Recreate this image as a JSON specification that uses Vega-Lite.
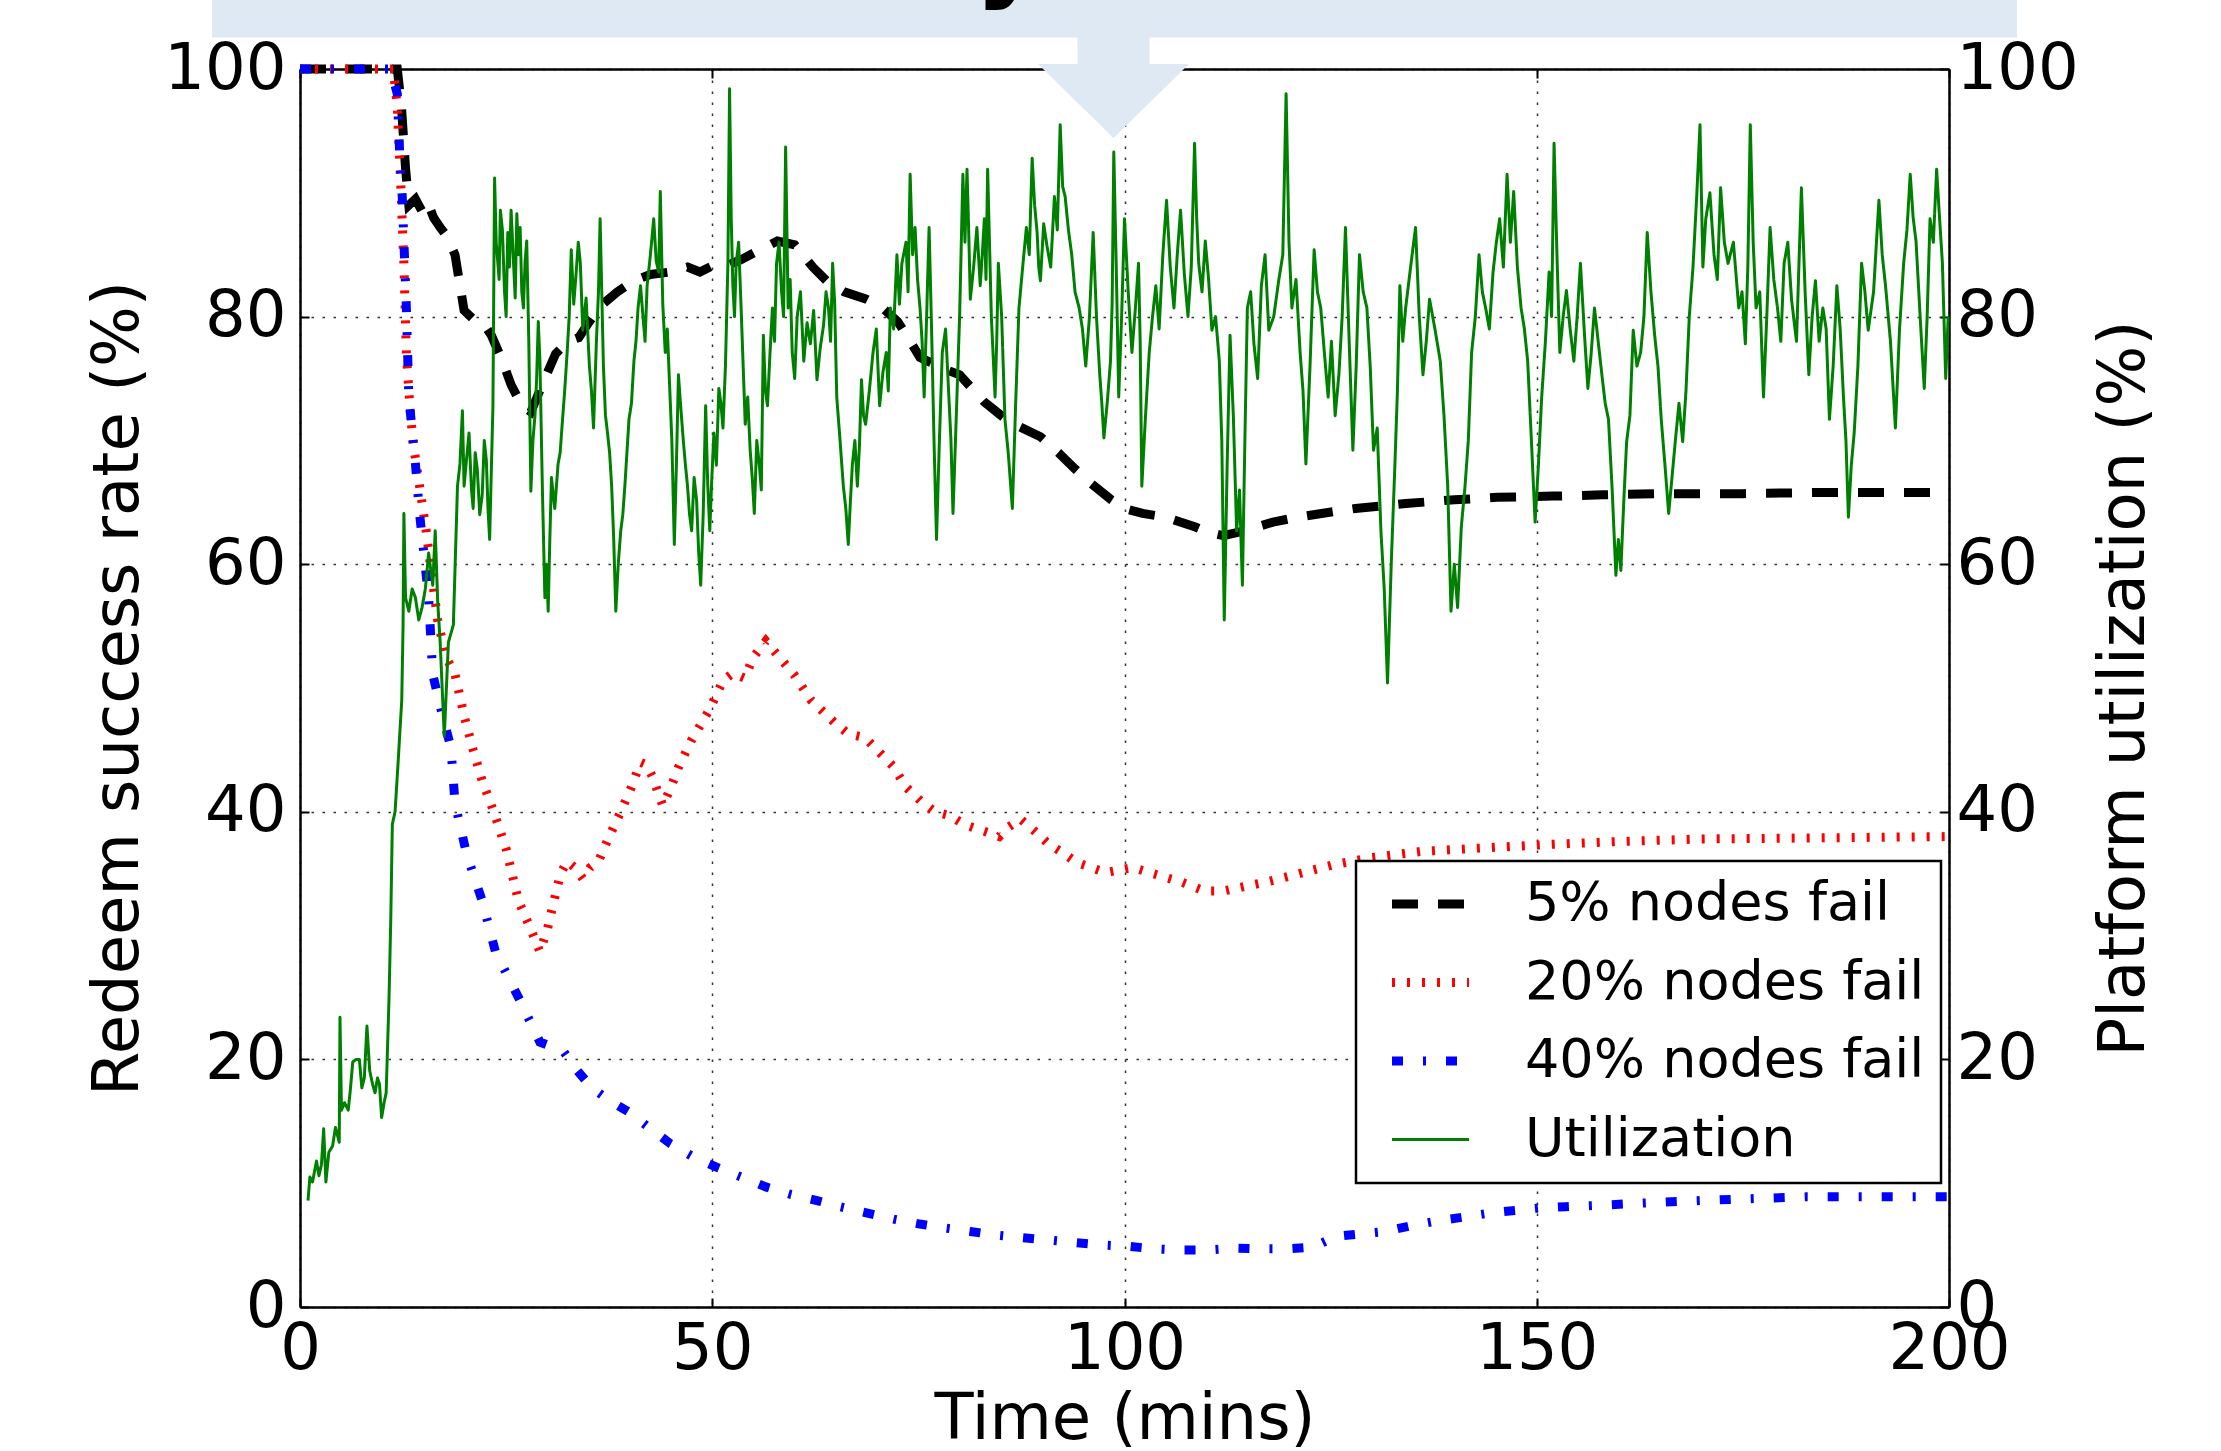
{
  "$schema": "https://vega.github.io/schema/vega-lite/v6.json",
  "width": 1649,
  "height": 1238,
  "autosize": {"type": "none"},
  "padding": {"left": 300, "top": 69, "right": 272, "bottom": 144},
  "background": "white",
  "config": {
    "font": "DejaVu Sans",
    "view": {"stroke": null},
    "axis": {
      "labelFont": "DejaVu Sans", "titleFont": "DejaVu Sans",
      "labelFontSize": 64, "titleFontSize": 64,
      "labelColor": "black", "titleColor": "black", "titleFontWeight": "normal",
      "domainColor": "black", "domainWidth": 2.5,
      "tickColor": "black", "tickWidth": 2, "tickSize": -9,
      "gridColor": "black", "gridDash": [2.5, 8.5], "gridWidth": 1.5, "gridOpacity": 0.8,
      "labelFlush": false, "labelOverlap": false, "labelBound": false
    },
    "legend": {"strokeWidth": 2.5}
  },
  "datasets": {
    "redeem": [
      {"t":0,"v":100,"s":"5% nodes fail"},{"t":5,"v":100,"s":"5% nodes fail"},{"t":11.8,"v":100,"s":"5% nodes fail"},{"t":12.3,"v":97,"s":"5% nodes fail"},{"t":12.8,"v":92,"s":"5% nodes fail"},{"t":13.2,"v":89,"s":"5% nodes fail"},{"t":14,"v":89.5,"s":"5% nodes fail"},{"t":14.8,"v":88.5,"s":"5% nodes fail"},{"t":15.5,"v":89.2,"s":"5% nodes fail"},{"t":16.2,"v":88,"s":"5% nodes fail"},{"t":17,"v":87.2,"s":"5% nodes fail"},{"t":17.8,"v":86.5,"s":"5% nodes fail"},{"t":18.8,"v":85,"s":"5% nodes fail"},{"t":19.9,"v":80.5,"s":"5% nodes fail"},{"t":21,"v":79.8,"s":"5% nodes fail"},{"t":22.2,"v":79.5,"s":"5% nodes fail"},{"t":23.2,"v":78.5,"s":"5% nodes fail"},{"t":24.5,"v":76.5,"s":"5% nodes fail"},{"t":25.6,"v":74.5,"s":"5% nodes fail"},{"t":26.9,"v":72.8,"s":"5% nodes fail"},{"t":28,"v":72.3,"s":"5% nodes fail"},{"t":29.7,"v":75,"s":"5% nodes fail"},{"t":31,"v":77,"s":"5% nodes fail"},{"t":32.5,"v":78,"s":"5% nodes fail"},{"t":33.8,"v":78.3,"s":"5% nodes fail"},{"t":35,"v":79.5,"s":"5% nodes fail"},{"t":36.7,"v":81,"s":"5% nodes fail"},{"t":38.5,"v":82,"s":"5% nodes fail"},{"t":40.5,"v":82.9,"s":"5% nodes fail"},{"t":42.5,"v":83.4,"s":"5% nodes fail"},{"t":44.9,"v":83.6,"s":"5% nodes fail"},{"t":47,"v":84,"s":"5% nodes fail"},{"t":48.5,"v":83.6,"s":"5% nodes fail"},{"t":50,"v":84.1,"s":"5% nodes fail"},{"t":52,"v":84.2,"s":"5% nodes fail"},{"t":53.5,"v":84.6,"s":"5% nodes fail"},{"t":55.5,"v":85.3,"s":"5% nodes fail"},{"t":57.9,"v":86.1,"s":"5% nodes fail"},{"t":60,"v":85.8,"s":"5% nodes fail"},{"t":62.2,"v":84,"s":"5% nodes fail"},{"t":64,"v":82.8,"s":"5% nodes fail"},{"t":66,"v":82,"s":"5% nodes fail"},{"t":68.7,"v":81.4,"s":"5% nodes fail"},{"t":70.5,"v":80.8,"s":"5% nodes fail"},{"t":72.5,"v":79.6,"s":"5% nodes fail"},{"t":74,"v":78,"s":"5% nodes fail"},{"t":75.2,"v":76.7,"s":"5% nodes fail"},{"t":78.4,"v":75.7,"s":"5% nodes fail"},{"t":80,"v":75.3,"s":"5% nodes fail"},{"t":83,"v":73.1,"s":"5% nodes fail"},{"t":86,"v":71.5,"s":"5% nodes fail"},{"t":89.8,"v":70.3,"s":"5% nodes fail"},{"t":92,"v":69,"s":"5% nodes fail"},{"t":94,"v":67.7,"s":"5% nodes fail"},{"t":96,"v":66.5,"s":"5% nodes fail"},{"t":98.4,"v":65.2,"s":"5% nodes fail"},{"t":100,"v":64.5,"s":"5% nodes fail"},{"t":102.2,"v":64.1,"s":"5% nodes fail"},{"t":105,"v":63.8,"s":"5% nodes fail"},{"t":108.6,"v":63,"s":"5% nodes fail"},{"t":110,"v":62.6,"s":"5% nodes fail"},{"t":112,"v":62.3,"s":"5% nodes fail"},{"t":114,"v":62.6,"s":"5% nodes fail"},{"t":116,"v":63,"s":"5% nodes fail"},{"t":118,"v":63.4,"s":"5% nodes fail"},{"t":121,"v":63.8,"s":"5% nodes fail"},{"t":123.9,"v":64.1,"s":"5% nodes fail"},{"t":128,"v":64.5,"s":"5% nodes fail"},{"t":134.1,"v":64.9,"s":"5% nodes fail"},{"t":140,"v":65.2,"s":"5% nodes fail"},{"t":145.2,"v":65.4,"s":"5% nodes fail"},{"t":152,"v":65.5,"s":"5% nodes fail"},{"t":158,"v":65.6,"s":"5% nodes fail"},{"t":165,"v":65.7,"s":"5% nodes fail"},{"t":175,"v":65.7,"s":"5% nodes fail"},{"t":185,"v":65.8,"s":"5% nodes fail"},{"t":200,"v":65.8,"s":"5% nodes fail"},
      {"t":0,"v":100,"s":"20% nodes fail"},{"t":11.3,"v":100,"s":"20% nodes fail"},{"t":11.8,"v":97,"s":"20% nodes fail"},{"t":12.2,"v":91,"s":"20% nodes fail"},{"t":12.6,"v":84.3,"s":"20% nodes fail"},{"t":12.9,"v":77,"s":"20% nodes fail"},{"t":13.3,"v":73,"s":"20% nodes fail"},{"t":13.7,"v":69.9,"s":"20% nodes fail"},{"t":14.5,"v":66.3,"s":"20% nodes fail"},{"t":15.3,"v":62.7,"s":"20% nodes fail"},{"t":16,"v":59,"s":"20% nodes fail"},{"t":16.7,"v":55.5,"s":"20% nodes fail"},{"t":17.7,"v":52.5,"s":"20% nodes fail"},{"t":18.8,"v":51.1,"s":"20% nodes fail"},{"t":20,"v":47.5,"s":"20% nodes fail"},{"t":21,"v":45,"s":"20% nodes fail"},{"t":22.1,"v":42.5,"s":"20% nodes fail"},{"t":23.5,"v":40,"s":"20% nodes fail"},{"t":25,"v":37,"s":"20% nodes fail"},{"t":26.5,"v":32.8,"s":"20% nodes fail"},{"t":28,"v":30.5,"s":"20% nodes fail"},{"t":29.1,"v":28.7,"s":"20% nodes fail"},{"t":30,"v":30.5,"s":"20% nodes fail"},{"t":30.8,"v":32.8,"s":"20% nodes fail"},{"t":31.6,"v":35,"s":"20% nodes fail"},{"t":32.4,"v":36,"s":"20% nodes fail"},{"t":33.3,"v":35.5,"s":"20% nodes fail"},{"t":34.3,"v":34.6,"s":"20% nodes fail"},{"t":35.2,"v":35.5,"s":"20% nodes fail"},{"t":36.2,"v":36,"s":"20% nodes fail"},{"t":37.5,"v":38,"s":"20% nodes fail"},{"t":38.9,"v":40,"s":"20% nodes fail"},{"t":40.2,"v":42,"s":"20% nodes fail"},{"t":41.3,"v":44,"s":"20% nodes fail"},{"t":42,"v":43.8,"s":"20% nodes fail"},{"t":42.7,"v":42.9,"s":"20% nodes fail"},{"t":44,"v":40.5,"s":"20% nodes fail"},{"t":45,"v":42,"s":"20% nodes fail"},{"t":45.9,"v":43.6,"s":"20% nodes fail"},{"t":47.5,"v":45.8,"s":"20% nodes fail"},{"t":49.7,"v":48.3,"s":"20% nodes fail"},{"t":51.3,"v":50.6,"s":"20% nodes fail"},{"t":52.5,"v":51.2,"s":"20% nodes fail"},{"t":53.9,"v":50.8,"s":"20% nodes fail"},{"t":55,"v":52.5,"s":"20% nodes fail"},{"t":56.5,"v":53.8,"s":"20% nodes fail"},{"t":57.5,"v":53,"s":"20% nodes fail"},{"t":59.9,"v":51.1,"s":"20% nodes fail"},{"t":62,"v":49,"s":"20% nodes fail"},{"t":65,"v":47.1,"s":"20% nodes fail"},{"t":66.5,"v":46.3,"s":"20% nodes fail"},{"t":68.5,"v":46,"s":"20% nodes fail"},{"t":70,"v":45,"s":"20% nodes fail"},{"t":71.9,"v":43.7,"s":"20% nodes fail"},{"t":73.5,"v":42,"s":"20% nodes fail"},{"t":75.4,"v":40.8,"s":"20% nodes fail"},{"t":77,"v":40,"s":"20% nodes fail"},{"t":78.8,"v":39.7,"s":"20% nodes fail"},{"t":80.5,"v":39,"s":"20% nodes fail"},{"t":82.2,"v":38.6,"s":"20% nodes fail"},{"t":84.8,"v":38,"s":"20% nodes fail"},{"t":86,"v":38.8,"s":"20% nodes fail"},{"t":87.4,"v":39.4,"s":"20% nodes fail"},{"t":89,"v":38.5,"s":"20% nodes fail"},{"t":90.8,"v":37.4,"s":"20% nodes fail"},{"t":92.5,"v":36.7,"s":"20% nodes fail"},{"t":94.2,"v":35.9,"s":"20% nodes fail"},{"t":97.7,"v":35.1,"s":"20% nodes fail"},{"t":101,"v":35.5,"s":"20% nodes fail"},{"t":104.5,"v":34.8,"s":"20% nodes fail"},{"t":107,"v":34.3,"s":"20% nodes fail"},{"t":109.7,"v":33.6,"s":"20% nodes fail"},{"t":112,"v":33.6,"s":"20% nodes fail"},{"t":114.8,"v":34,"s":"20% nodes fail"},{"t":117,"v":34.3,"s":"20% nodes fail"},{"t":120,"v":34.8,"s":"20% nodes fail"},{"t":125.2,"v":35.7,"s":"20% nodes fail"},{"t":130,"v":36.3,"s":"20% nodes fail"},{"t":136,"v":36.8,"s":"20% nodes fail"},{"t":144,"v":37.1,"s":"20% nodes fail"},{"t":152.6,"v":37.4,"s":"20% nodes fail"},{"t":160,"v":37.6,"s":"20% nodes fail"},{"t":169.8,"v":37.8,"s":"20% nodes fail"},{"t":185,"v":37.9,"s":"20% nodes fail"},{"t":200,"v":38,"s":"20% nodes fail"},
      {"t":0,"v":100,"s":"40% nodes fail"},{"t":11,"v":100,"s":"40% nodes fail"},{"t":11.8,"v":98,"s":"40% nodes fail"},{"t":12.1,"v":93,"s":"40% nodes fail"},{"t":12.4,"v":89.7,"s":"40% nodes fail"},{"t":12.9,"v":80.7,"s":"40% nodes fail"},{"t":13.2,"v":73.5,"s":"40% nodes fail"},{"t":14,"v":68.1,"s":"40% nodes fail"},{"t":14.5,"v":64.1,"s":"40% nodes fail"},{"t":15.6,"v":57.3,"s":"40% nodes fail"},{"t":16.1,"v":51.1,"s":"40% nodes fail"},{"t":17.2,"v":48,"s":"40% nodes fail"},{"t":18.3,"v":45.2,"s":"40% nodes fail"},{"t":18.8,"v":40.7,"s":"40% nodes fail"},{"t":20.2,"v":36.6,"s":"40% nodes fail"},{"t":22.1,"v":32.8,"s":"40% nodes fail"},{"t":23.7,"v":28.7,"s":"40% nodes fail"},{"t":26.5,"v":25,"s":"40% nodes fail"},{"t":29.1,"v":21.4,"s":"40% nodes fail"},{"t":31.9,"v":20.7,"s":"40% nodes fail"},{"t":33.5,"v":19.2,"s":"40% nodes fail"},{"t":35.4,"v":17.7,"s":"40% nodes fail"},{"t":37.5,"v":16.7,"s":"40% nodes fail"},{"t":40,"v":15.7,"s":"40% nodes fail"},{"t":42.5,"v":14.4,"s":"40% nodes fail"},{"t":44.9,"v":13.2,"s":"40% nodes fail"},{"t":47.5,"v":12.2,"s":"40% nodes fail"},{"t":50.5,"v":11.3,"s":"40% nodes fail"},{"t":53.5,"v":10.5,"s":"40% nodes fail"},{"t":56.5,"v":9.7,"s":"40% nodes fail"},{"t":59.5,"v":9.1,"s":"40% nodes fail"},{"t":62.7,"v":8.6,"s":"40% nodes fail"},{"t":65.5,"v":8.1,"s":"40% nodes fail"},{"t":68.7,"v":7.6,"s":"40% nodes fail"},{"t":72,"v":7.1,"s":"40% nodes fail"},{"t":75.2,"v":6.7,"s":"40% nodes fail"},{"t":78,"v":6.4,"s":"40% nodes fail"},{"t":81.3,"v":6.1,"s":"40% nodes fail"},{"t":84.5,"v":5.8,"s":"40% nodes fail"},{"t":87.7,"v":5.6,"s":"40% nodes fail"},{"t":91,"v":5.4,"s":"40% nodes fail"},{"t":94.1,"v":5.2,"s":"40% nodes fail"},{"t":97.5,"v":5,"s":"40% nodes fail"},{"t":100.5,"v":4.9,"s":"40% nodes fail"},{"t":103.5,"v":4.7,"s":"40% nodes fail"},{"t":106.9,"v":4.6,"s":"40% nodes fail"},{"t":110,"v":4.6,"s":"40% nodes fail"},{"t":113.3,"v":4.75,"s":"40% nodes fail"},{"t":116.5,"v":4.7,"s":"40% nodes fail"},{"t":119.7,"v":4.7,"s":"40% nodes fail"},{"t":122,"v":4.8,"s":"40% nodes fail"},{"t":123.1,"v":4.9,"s":"40% nodes fail"},{"t":125.6,"v":5.7,"s":"40% nodes fail"},{"t":128.5,"v":5.9,"s":"40% nodes fail"},{"t":131.6,"v":6.1,"s":"40% nodes fail"},{"t":135,"v":6.6,"s":"40% nodes fail"},{"t":138.4,"v":7,"s":"40% nodes fail"},{"t":141.5,"v":7.3,"s":"40% nodes fail"},{"t":144.4,"v":7.6,"s":"40% nodes fail"},{"t":147.5,"v":7.8,"s":"40% nodes fail"},{"t":150.3,"v":8,"s":"40% nodes fail"},{"t":153.5,"v":8.1,"s":"40% nodes fail"},{"t":157.1,"v":8.2,"s":"40% nodes fail"},{"t":163,"v":8.4,"s":"40% nodes fail"},{"t":170,"v":8.6,"s":"40% nodes fail"},{"t":176,"v":8.75,"s":"40% nodes fail"},{"t":182.7,"v":8.9,"s":"40% nodes fail"},{"t":189,"v":8.9,"s":"40% nodes fail"},{"t":195.5,"v":8.9,"s":"40% nodes fail"},{"t":200,"v":8.9,"s":"40% nodes fail"}
    ],
    "util": [
      {"t":0.97,"u":8.6},{"t":1.2,"u":10.5},{"t":1.52,"u":10.1},{"t":2.0,"u":11.8},{"t":2.3,"u":10.6},{"t":2.6,"u":11.5},{"t":2.87,"u":14.4},{"t":3.14,"u":10.1},{"t":3.5,"u":12.5},{"t":3.95,"u":13.0},{"t":4.3,"u":14.5},{"t":4.76,"u":13.3},{"t":4.85,"u":23.4},{"t":5.03,"u":15.9},{"t":5.4,"u":16.5},{"t":5.85,"u":15.9},{"t":6.1,"u":17.5},{"t":6.4,"u":19.8},{"t":6.8,"u":20.0},{"t":7.2,"u":20.0},{"t":7.5,"u":17.7},{"t":7.8,"u":18.5},{"t":8.12,"u":22.7},{"t":8.45,"u":19.1},{"t":8.8,"u":18.0},{"t":9.1,"u":17.3},{"t":9.4,"u":18.5},{"t":9.64,"u":18.0},{"t":9.9,"u":15.3},{"t":10.2,"u":16.5},{"t":10.45,"u":17.3},{"t":10.8,"u":25},{"t":11.0,"u":31},{"t":11.2,"u":39},{"t":11.53,"u":40},{"t":11.9,"u":44},{"t":12.34,"u":49},{"t":12.5,"u":55},{"t":12.6,"u":64.1},{"t":12.8,"u":57.3},{"t":13.2,"u":56.2},{"t":13.6,"u":58},{"t":14.0,"u":57.3},{"t":14.4,"u":55.5},{"t":14.8,"u":56.5},{"t":15.2,"u":58},{"t":15.6,"u":60.9},{"t":16.1,"u":58.3},{"t":16.4,"u":62.7},{"t":16.7,"u":57},{"t":17.0,"u":53.7},{"t":17.5,"u":46.1},{"t":18.0,"u":53.7},{"t":18.6,"u":55.1},
      {"t":19.1,"u":66.3},{"t":19.4,"u":68.1},{"t":19.7,"u":72.4},{"t":19.9,"u":66.3},{"t":20.2,"u":68.5},{"t":20.5,"u":70.6},{"t":20.8,"u":66},{"t":21.0,"u":64.5},{"t":21.25,"u":69},{"t":21.5,"u":67.7},{"t":21.8,"u":64},{"t":22.1,"u":65.6},{"t":22.35,"u":70},{"t":22.6,"u":68.4},{"t":22.8,"u":64.5},{"t":23.0,"u":62.0},{"t":23.4,"u":72.8},
      {"t":23.6,"u":91.2},{"t":23.8,"u":86},{"t":24.0,"u":84.3},{"t":24.15,"u":83},{"t":24.3,"u":88.6},{"t":24.55,"u":87},{"t":24.8,"u":82.1},{"t":25.0,"u":80},{"t":25.2,"u":86.8},{"t":25.4,"u":84},{"t":25.6,"u":88.6},{"t":25.75,"u":86.5},{"t":25.9,"u":84.3},{"t":26.1,"u":81.5},{"t":26.3,"u":88.3},{"t":26.5,"u":85},{"t":26.7,"u":87.2},{"t":26.9,"u":82},{"t":27.1,"u":80.7},{"t":27.3,"u":84.5},{"t":27.5,"u":86.1},{"t":27.75,"u":78},{"t":28.0,"u":65.9},
      {"t":28.25,"u":70},{"t":28.5,"u":72},{"t":28.7,"u":75},{"t":28.9,"u":79.6},{"t":29.1,"u":76.4},{"t":29.4,"u":66},{"t":29.7,"u":57.3},{"t":29.9,"u":60},{"t":30.1,"u":56.2},{"t":30.3,"u":62},{"t":30.5,"u":67.0},{"t":30.9,"u":64.5},{"t":31.3,"u":68.1},
      {"t":31.55,"u":69},{"t":31.8,"u":71.3},{"t":32.1,"u":74},{"t":32.4,"u":77.1},{"t":32.65,"u":80},{"t":32.9,"u":85.4},{"t":33.2,"u":81},{"t":33.5,"u":83.6},{"t":33.75,"u":86},{"t":34.0,"u":84.3},{"t":34.3,"u":78.9},{"t":34.7,"u":81.5},{"t":35.1,"u":76.0},{"t":35.35,"u":74},{"t":35.6,"u":71.0},{"t":35.95,"u":78},{"t":36.2,"u":82},{"t":36.4,"u":87.9},
      {"t":36.8,"u":76},{"t":37.05,"u":72},{"t":37.3,"u":70.6},{"t":37.55,"u":69},{"t":37.8,"u":66.3},{"t":38.05,"u":62},{"t":38.3,"u":56.2},{"t":38.6,"u":60},{"t":38.9,"u":62.7},{"t":39.15,"u":64},{"t":39.4,"u":66.3},{"t":39.65,"u":69},{"t":39.9,"u":71.7},{"t":40.2,"u":73},{"t":40.5,"u":76.4},{"t":40.75,"u":78},{"t":41.0,"u":80.7},
      {"t":41.3,"u":82.5},{"t":41.6,"u":80.0},{"t":41.85,"u":78},{"t":42.1,"u":82.5},{"t":42.5,"u":85},{"t":42.9,"u":87.9},{"t":43.2,"u":84.5},{"t":43.5,"u":83.6},{"t":43.7,"u":90.1},{"t":44.0,"u":81},{"t":44.3,"u":77.1},{"t":44.55,"u":79},{"t":44.8,"u":74.9},{"t":45.1,"u":70},{"t":45.4,"u":61.6},
      {"t":45.65,"u":68},{"t":45.9,"u":75.3},{"t":46.2,"u":72.5},{"t":46.5,"u":69.9},{"t":46.75,"u":68},{"t":47.0,"u":66.3},{"t":47.25,"u":64},{"t":47.5,"u":62.7},{"t":47.8,"u":67},{"t":48.1,"u":65.2},{"t":48.35,"u":61},{"t":48.6,"u":58.3},{"t":48.9,"u":64},{"t":49.2,"u":72.8},{"t":49.45,"u":66.5},{"t":49.7,"u":62.7},{"t":49.95,"u":67},
      {"t":50.2,"u":70.6},{"t":50.5,"u":68},{"t":50.8,"u":74.2},{"t":51.05,"u":73},{"t":51.3,"u":71.0},{"t":51.6,"u":76},{"t":51.9,"u":84.3},{"t":52.1,"u":98.4},{"t":52.3,"u":88},{"t":52.5,"u":82.5},{"t":52.7,"u":80},{"t":52.9,"u":84.3},{"t":53.2,"u":86},{"t":53.5,"u":80.7},{"t":53.75,"u":76},{"t":54.0,"u":71.3},{"t":54.3,"u":73.5},{"t":54.6,"u":69.2},{"t":54.85,"u":67},{"t":55.1,"u":64.1},{"t":55.4,"u":70},{"t":55.7,"u":68.1},{"t":55.95,"u":66},
      {"t":56.2,"u":78.5},{"t":56.45,"u":74},{"t":56.7,"u":72.8},{"t":57.0,"u":77},{"t":57.3,"u":80.7},{"t":57.55,"u":78},{"t":57.8,"u":84.3},{"t":58.1,"u":86},{"t":58.4,"u":82.1},{"t":58.65,"u":80},{"t":58.9,"u":93.7},{"t":59.2,"u":80.7},{"t":59.45,"u":83},{"t":59.7,"u":77.1},{"t":60.0,"u":75},{"t":60.3,"u":80.0},{"t":60.7,"u":82},{"t":61.1,"u":76.4},
      {"t":61.5,"u":79.5},{"t":61.9,"u":77.8},{"t":62.3,"u":80.5},{"t":62.7,"u":74.9},{"t":63.1,"u":77.5},{"t":63.5,"u":79.3},{"t":63.8,"u":82},{"t":64.1,"u":80.7},{"t":64.35,"u":78},{"t":64.6,"u":84.3},{"t":64.85,"u":81},{"t":65.1,"u":73.5},{"t":65.5,"u":70},{"t":65.9,"u":66.3},
      {"t":66.2,"u":64.5},{"t":66.5,"u":61.6},{"t":66.75,"u":65},{"t":67.0,"u":68.1},{"t":67.3,"u":70},{"t":67.6,"u":66.3},{"t":67.85,"u":69.5},{"t":68.1,"u":74.9},{"t":68.35,"u":72},{"t":68.6,"u":71.3},{"t":69.05,"u":74},{"t":69.5,"u":77.1},{"t":69.9,"u":79},{"t":70.3,"u":72.8},{"t":70.7,"u":75.5},{"t":71.1,"u":77.1},{"t":71.35,"u":74},{"t":71.6,"u":80.7},{"t":72.0,"u":79},{"t":72.4,"u":85.0},
      {"t":72.7,"u":81},{"t":73.0,"u":84.3},{"t":73.5,"u":86},{"t":73.75,"u":82},{"t":74.0,"u":91.5},{"t":74.3,"u":85},{"t":74.6,"u":87.2},{"t":74.9,"u":83},{"t":75.2,"u":80.7},{"t":75.45,"u":78},{"t":75.7,"u":73.5},{"t":76.0,"u":80},{"t":76.3,"u":87.2},{"t":76.6,"u":79},{"t":76.9,"u":69.9},{"t":77.2,"u":62.0},{"t":77.55,"u":70},{"t":77.9,"u":77.1},{"t":78.3,"u":79},{"t":78.7,"u":73.5},{"t":78.95,"u":70},{"t":79.2,"u":64.1},{"t":79.6,"u":72},{"t":80.0,"u":80},{"t":80.4,"u":91.5},
      {"t":80.65,"u":86},{"t":80.9,"u":91.9},{"t":81.1,"u":87},{"t":81.3,"u":81.4},{"t":81.7,"u":84},{"t":82.1,"u":87.2},{"t":82.5,"u":82.5},{"t":82.75,"u":85},{"t":83.0,"u":87.9},{"t":83.2,"u":83},{"t":83.4,"u":91.9},{"t":83.85,"u":80},{"t":84.3,"u":73.5},{"t":84.5,"u":78},{"t":84.7,"u":84.3},{"t":85.1,"u":80},{"t":85.5,"u":71.7},{"t":85.9,"u":69},{"t":86.4,"u":64.5},
      {"t":86.8,"u":73},{"t":87.2,"u":80.7},{"t":87.65,"u":84},{"t":88.1,"u":87.2},{"t":88.45,"u":85},{"t":88.8,"u":92.8},{"t":89.1,"u":89},{"t":89.4,"u":86.8},{"t":89.6,"u":84},{"t":89.8,"u":82.9},{"t":90.2,"u":87.5},{"t":90.6,"u":85.7},{"t":91.05,"u":84},{"t":91.5,"u":89.7},{"t":91.85,"u":87},{"t":92.2,"u":95.5},
      {"t":92.5,"u":90.5},{"t":92.8,"u":89.7},{"t":93.2,"u":87},{"t":93.6,"u":85.0},{"t":94.0,"u":82},{"t":94.5,"u":80.7},{"t":94.9,"u":79},{"t":95.3,"u":76.0},{"t":95.75,"u":80},{"t":96.2,"u":86.8},{"t":96.6,"u":80},{"t":97.0,"u":75.3},{"t":97.25,"u":73},{"t":97.5,"u":70.2},{"t":97.9,"u":73},{"t":98.3,"u":76.4},{"t":98.5,"u":81},{"t":98.7,"u":93.3},{"t":99.0,"u":84},{"t":99.3,"u":73.5},{"t":99.65,"u":80},{"t":100.0,"u":87.9},
      {"t":100.45,"u":82},{"t":100.9,"u":77.1},{"t":101.3,"u":80.5},{"t":101.7,"u":84.3},{"t":101.9,"u":78},{"t":102.1,"u":66.3},{"t":102.55,"u":72},{"t":103.0,"u":77.1},{"t":103.4,"u":80},{"t":103.8,"u":82.5},{"t":104.2,"u":79},{"t":104.65,"u":85},{"t":105.1,"u":89.4},{"t":105.55,"u":84},{"t":106.0,"u":80.7},{"t":106.4,"u":85},{"t":106.8,"u":88.6},{"t":107.25,"u":83.5},{"t":107.7,"u":80.0},{"t":108.1,"u":84},{"t":108.5,"u":94.0},
      {"t":108.75,"u":88},{"t":109.0,"u":84.3},{"t":109.4,"u":82},{"t":109.8,"u":86.1},{"t":110.2,"u":83},{"t":110.6,"u":78.9},{"t":111.05,"u":80},{"t":111.5,"u":76.4},{"t":111.8,"u":70},{"t":112.1,"u":55.5},{"t":112.45,"u":68},{"t":112.8,"u":78.5},{"t":113.2,"u":72},{"t":113.6,"u":62.7},{"t":113.95,"u":66},{"t":114.3,"u":58.3},{"t":114.6,"u":70},{"t":114.9,"u":80.7},
      {"t":115.3,"u":82},{"t":115.7,"u":77.8},{"t":116.15,"u":75},{"t":116.6,"u":82.5},{"t":117.05,"u":85},{"t":117.5,"u":78.9},{"t":118.1,"u":80},{"t":118.7,"u":82.9},{"t":119.2,"u":85},{"t":119.6,"u":98.0},{"t":119.95,"u":86},{"t":120.3,"u":80.7},{"t":120.8,"u":83},{"t":121.3,"u":77.1},{"t":121.65,"u":74},{"t":122.0,"u":68.1},{"t":122.5,"u":76},{"t":123.0,"u":85.4},
      {"t":123.4,"u":82},{"t":123.8,"u":80.7},{"t":124.25,"u":77},{"t":124.7,"u":73.5},{"t":125.1,"u":78},{"t":125.55,"u":72},{"t":126.0,"u":75.3},{"t":126.4,"u":80},{"t":126.8,"u":87.2},{"t":127.25,"u":78},{"t":127.7,"u":69.2},{"t":128.1,"u":76},{"t":128.5,"u":85.0},{"t":128.95,"u":82},{"t":129.4,"u":80.7},{"t":129.8,"u":76},{"t":130.2,"u":69.2},{"t":130.65,"u":71},{"t":131.1,"u":62.7},
      {"t":131.5,"u":58},{"t":131.9,"u":50.4},{"t":132.35,"u":60},{"t":132.8,"u":68.1},{"t":133.1,"u":74},{"t":133.4,"u":82.5},{"t":133.75,"u":78},{"t":134.1,"u":80.7},{"t":134.7,"u":84},{"t":135.3,"u":87.2},{"t":135.75,"u":80},{"t":136.2,"u":75.3},{"t":136.6,"u":78},{"t":137.0,"u":81.4},{"t":137.65,"u":79},{"t":138.3,"u":76.4},{"t":138.75,"u":72},{"t":139.2,"u":66.3},
      {"t":139.6,"u":56.2},{"t":140.0,"u":60},{"t":140.4,"u":56.5},{"t":140.85,"u":63},{"t":141.3,"u":66.3},{"t":141.7,"u":70},{"t":142.1,"u":77.1},{"t":142.55,"u":80},{"t":143.0,"u":85.0},{"t":143.4,"u":82},{"t":143.8,"u":80.7},{"t":144.25,"u":79},{"t":144.7,"u":83.6},{"t":145.1,"u":86},{"t":145.5,"u":87.9},{"t":145.95,"u":84},{"t":146.4,"u":91.5},
      {"t":146.8,"u":86},{"t":147.2,"u":90.1},{"t":147.65,"u":84},{"t":148.1,"u":80.7},{"t":148.5,"u":79},{"t":148.9,"u":76.4},{"t":149.35,"u":70},{"t":149.8,"u":63.4},{"t":150.2,"u":68},{"t":150.6,"u":73.5},{"t":151.05,"u":78},{"t":151.5,"u":83.6},{"t":151.8,"u":80},{"t":152.1,"u":94.0},{"t":152.45,"u":85},{"t":152.8,"u":77.1},
      {"t":153.2,"u":80},{"t":153.6,"u":82.1},{"t":154.05,"u":79},{"t":154.5,"u":76.4},{"t":154.9,"u":80},{"t":155.3,"u":84.3},{"t":155.75,"u":79},{"t":156.2,"u":74.2},{"t":156.6,"u":77},{"t":157.0,"u":80.7},{"t":157.45,"u":78},{"t":157.9,"u":75.3},{"t":158.3,"u":73},{"t":158.7,"u":71.7},{"t":159.15,"u":66},{"t":159.6,"u":59.1},{"t":159.9,"u":62},{"t":160.2,"u":59.5},
      {"t":160.55,"u":65},{"t":160.9,"u":69.9},{"t":161.3,"u":72},{"t":161.7,"u":78.9},{"t":162.15,"u":76},{"t":162.6,"u":77.1},{"t":163.0,"u":80},{"t":163.4,"u":86.8},{"t":163.85,"u":82},{"t":164.3,"u":78.5},{"t":164.7,"u":76},{"t":165.1,"u":71.7},{"t":165.55,"u":68},{"t":166.0,"u":64.1},{"t":166.4,"u":67},{"t":166.8,"u":69.9},{"t":167.25,"u":73},{"t":167.7,"u":69.9},{"t":168.1,"u":74},{"t":168.5,"u":80.0},
      {"t":168.95,"u":84},{"t":169.4,"u":89.7},{"t":169.8,"u":95.5},{"t":170.15,"u":84},{"t":170.5,"u":87.9},{"t":171.0,"u":90},{"t":171.5,"u":85.0},{"t":171.9,"u":83},{"t":172.3,"u":90.4},{"t":172.75,"u":86},{"t":173.2,"u":84.3},{"t":173.85,"u":86},{"t":174.5,"u":80.7},{"t":174.9,"u":82},{"t":175.3,"u":77.8},{"t":175.6,"u":84},{"t":175.9,"u":95.5},
      {"t":176.25,"u":86},{"t":176.6,"u":80.7},{"t":177.05,"u":82},{"t":177.5,"u":73.5},{"t":177.9,"u":80},{"t":178.3,"u":87.2},{"t":178.75,"u":83},{"t":179.2,"u":80.7},{"t":179.6,"u":78},{"t":180.0,"u":84.3},{"t":180.45,"u":86},{"t":180.9,"u":81.4},{"t":181.5,"u":78},{"t":182.1,"u":90.4},{"t":182.55,"u":82},{"t":183.0,"u":75.3},
      {"t":183.4,"u":80},{"t":183.8,"u":82.9},{"t":184.25,"u":78},{"t":184.7,"u":80.7},{"t":185.1,"u":79},{"t":185.5,"u":71.7},{"t":185.95,"u":76},{"t":186.4,"u":82.5},{"t":186.8,"u":79},{"t":187.2,"u":73.5},{"t":187.5,"u":70},{"t":187.8,"u":63.8},{"t":188.15,"u":68},{"t":188.5,"u":70.6},{"t":188.95,"u":76},{"t":189.4,"u":84.3},{"t":189.8,"u":82},{"t":190.2,"u":78.9},
      {"t":190.85,"u":82},{"t":191.5,"u":89.4},{"t":191.9,"u":85},{"t":192.3,"u":82.5},{"t":192.9,"u":78},{"t":193.5,"u":71.0},{"t":194.0,"u":79},{"t":194.5,"u":84.3},{"t":194.9,"u":87},{"t":195.3,"u":91.5},{"t":195.65,"u":88},{"t":196.0,"u":86.1},{"t":196.5,"u":80},{"t":197.0,"u":74.2},{"t":197.35,"u":80},{"t":197.7,"u":87.9},{"t":198.1,"u":86},{"t":198.5,"u":91.9},{"t":198.85,"u":88},{"t":199.2,"u":84.3},{"t":199.6,"u":75.0},{"t":199.9,"u":80}
    ]
  },
  "layer": [
    {
      "data": {"name": "redeem"},
      "mark": {"type": "line", "strokeWidth": 9, "strokeCap": "butt", "strokeJoin": "miter"},
      "encoding": {
        "x": {"field": "t", "type": "quantitative", "scale": {"domain": [0, 200], "nice": false, "zero": false},
              "axis": {"orient": "bottom", "values": [0, 50, 100, 150, 200], "grid": true, "title": "Time (mins)", "labelPadding": 19, "titleBaseline": "alphabetic", "titleY": 131, "titleX": 824.5, "titleAlign": "center"}},
        "y": {"field": "v", "type": "quantitative", "scale": {"domain": [0, 100], "nice": false, "zero": false},
              "axis": {"orient": "left", "values": [0, 20, 40, 60, 80, 100], "grid": true, "title": "Redeem success rate (%)", "labelPadding": 23, "titleAngle": 270, "titleBaseline": "alphabetic", "titleX": -163, "titleY": 619, "titleAlign": "center"}},
        "color": {"field": "s", "type": "nominal", "scale": {"domain": ["5% nodes fail", "20% nodes fail", "40% nodes fail", "Utilization"], "range": ["#000000", "#ff0000", "#0000ff", "#008000"]},
                  "legend": {"orient": "none", "legendX": 1056, "legendY": 792, "title": null, "padding": 16, "strokeColor": "black", "fillColor": "white", "symbolType": "M-1.4,0L1.4,0", "symbolSize": 3025, "symbolStrokeWidth": 9, "symbolOffset": 31.5, "labelOffset": 67.5, "rowPadding": 24.5, "labelFontSize": 54, "labelFont": "DejaVu Sans", "labelColor": "black", "labelLimit": 1000,
                             "encode": {"symbols": {"update": {"strokeWidth": {"signal": "datum.value === 'Utilization' ? 3 : 9"}}}}}},
        "strokeDash": {"field": "s", "type": "nominal", "scale": {"domain": ["5% nodes fail", "20% nodes fail", "40% nodes fail", "Utilization"], "range": [[26, 20], [3, 12], [11, 20, 3, 20], [1, 0]]},
                  "legend": {"orient": "none", "legendX": 1056, "legendY": 792, "title": null, "padding": 16, "strokeColor": "black", "fillColor": "white", "symbolType": "M-1.4,0L1.4,0", "symbolSize": 3025, "symbolStrokeWidth": 9, "symbolOffset": 31.5, "labelOffset": 67.5, "rowPadding": 24.5, "labelFontSize": 54, "labelFont": "DejaVu Sans", "labelColor": "black", "labelLimit": 1000,
                             "encode": {"symbols": {"update": {"strokeWidth": {"signal": "datum.value === 'Utilization' ? 3 : 9"}}}}}}
      }
    },
    {
      "data": {"name": "util"},
      "transform": [{"calculate": "'Utilization'", "as": "s"}],
      "mark": {"type": "line", "strokeWidth": 3, "strokeJoin": "round"},
      "encoding": {
        "x": {"field": "t", "type": "quantitative", "scale": {"domain": [0, 200], "nice": false, "zero": false},
              "axis": {"orient": "top", "values": [0, 50, 100, 150, 200], "grid": false, "labels": false, "title": null}},
        "y": {"field": "u", "type": "quantitative", "scale": {"domain": [0, 100], "nice": false, "zero": false},
              "axis": {"orient": "right", "values": [0, 20, 40, 60, 80, 100], "grid": false, "title": "Platform utilization (%)", "labelPadding": 16, "titleAngle": 270, "titleBaseline": "alphabetic", "titleX": 194, "titleY": 619, "titleAlign": "center"}},
        "color": {"field": "s", "type": "nominal", "scale": {"domain": ["5% nodes fail", "20% nodes fail", "40% nodes fail", "Utilization"], "range": ["#000000", "#ff0000", "#0000ff", "#008000"]}},
        "strokeDash": {"field": "s", "type": "nominal", "scale": {"domain": ["5% nodes fail", "20% nodes fail", "40% nodes fail", "Utilization"], "range": [[26, 20], [3, 12], [11, 20, 3, 20], [1, 0]]}}
      }
    },
    {
      "data": {"values": [{}]},
      "mark": {"type": "rect", "color": "#dfe9f3", "opacity": 1, "clip": false},
      "encoding": {
        "x": {"datum": -10.68, "type": "quantitative", "scale": {"domain": [0, 200]}, "axis": null},
        "x2": {"datum": 208.25},
        "y": {"datum": 102.54, "type": "quantitative", "scale": {"domain": [0, 100]}, "axis": null},
        "y2": {"datum": 106.5}
      }
    },
    {
      "data": {"values": [{}]},
      "mark": {"type": "point", "shape": "M-0.477,-0.689L0.477,-0.689L0.477,-0.318L1,-0.318L0,0.662L-1,-0.318L-0.477,-0.318Z", "size": 22801, "filled": true, "color": "#dfe9f3", "opacity": 1, "strokeWidth": 0, "clip": false},
      "encoding": {
        "x": {"datum": 98.67, "type": "quantitative", "scale": {"domain": [0, 200]}, "axis": null},
        "y": {"datum": 98.465, "type": "quantitative", "scale": {"domain": [0, 100]}, "axis": null}
      }
    },
    {
      "data": {"values": [{}]},
      "mark": {"type": "text", "text": "y", "font": "DejaVu Sans", "fontWeight": "bold", "fontSize": 105, "align": "left", "baseline": "alphabetic", "color": "black", "clip": false},
      "encoding": {
        "x": {"datum": 81.87, "type": "quantitative", "scale": {"domain": [0, 200]}, "axis": null},
        "y": {"datum": 106.62, "type": "quantitative", "scale": {"domain": [0, 100]}, "axis": null}
      }
    }
  ],
  "resolve": {"axis": {"x": "independent", "y": "independent"}}
}
